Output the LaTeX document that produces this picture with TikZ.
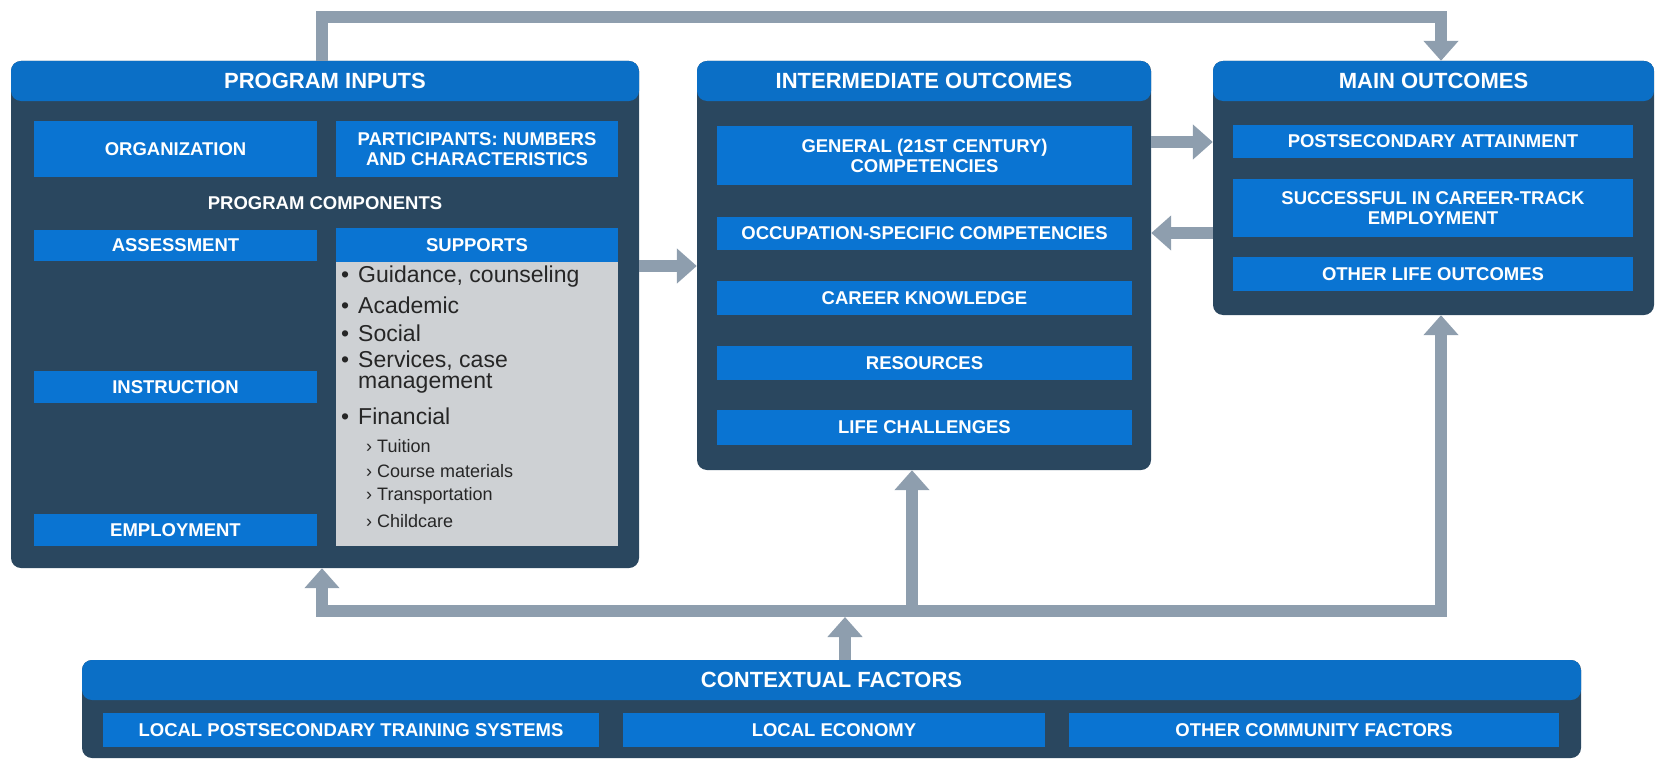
\documentclass[tikz,border=0pt]{standalone}
\usepackage{fontspec}
\setmainfont{Liberation Sans}
\usepackage{tikz}
\usetikzlibrary{arrows.meta,positioning}
\definecolor{hdrblue}{HTML}{0B6FC6}
\definecolor{boxblue}{HTML}{0A74D2}
\definecolor{navy}{HTML}{2A475F}
\definecolor{flowgray}{HTML}{8E9EAE}
\definecolor{suppgray}{HTML}{CED1D4}

\begin{document}
\begin{tikzpicture}[x=1pt,y=-1pt,
		panel/.style={rectangle, rounded corners=10pt, fill=navy, inner sep=0pt,
			path picture={\fill[hdrblue] (path picture bounding box.north west) rectangle ([yshift=-40pt]path picture bounding box.north east);}},
		hdtext/.style={text=white, inner sep=0pt, font=\fontsize{22}{24}\selectfont\bfseries},
		bluebox/.style={rectangle, fill=boxblue, inner sep=0pt, text=white, align=center, font=\fontsize{18.5}{20}\selectfont\bfseries},
		supitem/.style={anchor=west, inner sep=0pt, text=black!85, font=\fontsize{23}{25}\selectfont},
		subitem/.style={anchor=west, inner sep=0pt, text=black!85, font=\fontsize{18}{20}\selectfont},
		flow/.style={draw=flowgray, line width=12pt, -{Triangle[width=34pt,length=20pt]}}]
		\useasboundingbox (0,0) rectangle (1656,760);
		\node[panel, minimum width=628pt, minimum height=507pt] (inputs) at (325,314.5) {};
		\node[hdtext] (inputs-title) at ([yshift=-20pt]inputs.north) {PROGRAM INPUTS};
		\node[bluebox, minimum width=283pt, minimum height=56pt] (org) at (175.5,149) {ORGANIZATION};
		\node[bluebox, minimum width=282pt, minimum height=56pt] (part) at (477,149) {PARTICIPANTS: NUMBERS\\AND CHARACTERISTICS};
		\node[hdtext, font=\fontsize{18.5}{20}\selectfont\bfseries] (comp) at (325,203) {PROGRAM COMPONENTS};
		\node[bluebox, minimum width=283pt, minimum height=31pt] (assess) at (175.5,245.5) {ASSESSMENT};
		\node[bluebox, minimum width=282pt, minimum height=34pt] (supp) at (477,245) {SUPPORTS};
		\node[rectangle, fill=suppgray, inner sep=0pt, minimum width=282pt, minimum height=284pt, below=0pt of supp] (supplist) {};
		\node[bluebox, minimum width=283pt, minimum height=32pt] (instr) at (175.5,387) {INSTRUCTION};
		\node[bluebox, minimum width=283pt, minimum height=32pt] (employ) at (175.5,530) {EMPLOYMENT};
		\node[supitem] (s1) at (341,277) {•\hspace{9pt}Guidance, counseling};
		\node[supitem] (s2) at (341,305) {•\hspace{9pt}Academic};
		\node[supitem] (s3) at (341,333) {•\hspace{9pt}Social};
		\node[supitem] (s4) at (341,361) {•\hspace{9pt}Services, case};
		\node[supitem] (s4b) at (358,383) {management};
		\node[supitem] (s5) at (341,416) {•\hspace{9pt}Financial};
		\node[subitem] (f1) at (366,446) {›\hspace{5pt}Tuition};
		\node[subitem] (f2) at (366,471) {›\hspace{5pt}Course materials};
		\node[subitem] (f3) at (366,496) {›\hspace{5pt}Transportation};
		\node[subitem] (f4) at (366,521) {›\hspace{5pt}Childcare};

		\node[panel, minimum width=454pt, minimum height=409pt] (intermed) at (924,265.5) {};
		\node[hdtext] (intermed-title) at ([yshift=-20pt]intermed.north) {INTERMEDIATE OUTCOMES};
		\node[bluebox, minimum width=415pt, minimum height=59pt] (general) at (924.5,155.5) {GENERAL (21ST CENTURY)\\COMPETENCIES};
		\node[bluebox, minimum width=415pt, minimum height=33pt] (occup) at (924.5,233.5) {OCCUPATION-SPECIFIC COMPETENCIES};
		\node[bluebox, minimum width=415pt, minimum height=34pt] (career) at (924.5,298) {CAREER KNOWLEDGE};
		\node[bluebox, minimum width=415pt, minimum height=34pt] (resrc) at (924.5,363) {RESOURCES};
		\node[bluebox, minimum width=415pt, minimum height=35pt] (life) at (924.5,427.5) {LIFE CHALLENGES};

		\node[panel, minimum width=441pt, minimum height=254pt] (main) at (1433.5,188) {};
		\node[hdtext] (main-title) at ([yshift=-20pt]main.north) {MAIN OUTCOMES};
		\node[bluebox, minimum width=400pt, minimum height=33pt] (attain) at (1433,141.5) {POSTSECONDARY ATTAINMENT};
		\node[bluebox, minimum width=400pt, minimum height=58pt] (success) at (1433,208) {SUCCESSFUL IN CAREER-TRACK\\EMPLOYMENT};
		\node[bluebox, minimum width=400pt, minimum height=34pt] (otherlife) at (1433,274) {OTHER LIFE OUTCOMES};

		\node[panel, minimum width=1499pt, minimum height=98pt] (context) at (831.5,709) {};
		\node[hdtext] (context-title) at ([yshift=-20pt]context.north) {CONTEXTUAL FACTORS};
		\node[bluebox, minimum width=496pt, minimum height=34pt] (training) at (351,730) {LOCAL POSTSECONDARY TRAINING SYSTEMS};
		\node[bluebox, minimum width=422pt, minimum height=34pt] (economy) at (834,730) {LOCAL ECONOMY};
		\node[bluebox, minimum width=490pt, minimum height=34pt] (community) at (1314,730) {OTHER COMMUNITY FACTORS};

		\coordinate (topL) at (322,17);
		\coordinate (topR) at (1441,17);
		\coordinate (busL) at (322,611);
		\coordinate (busM) at (912,611);
		\coordinate (busR) at (1441,611);
		\coordinate (busC) at (845,617);
		\draw[flow] (inputs.north -| topL) -- (topL) -- (topR) -- (main.north -| topR);
		\draw[flow] (inputs.east |- 0,266) -- (intermed.west |- 0,266);
		\draw[flow] (intermed.east |- 0,142) -- (main.west |- 0,142);
		\draw[flow] (main.west |- 0,233) -- (intermed.east |- 0,233);
		\draw[flow] (busR) -- (busL) -- (inputs.south -| busL);
		\draw[flow] (busL) -- (busR) -- (main.south -| busR);
		\draw[flow] (busM) -- (intermed.south -| busM);
		\draw[flow] (context.north -| busC) -- (busC);
\end{tikzpicture}
\end{document}
